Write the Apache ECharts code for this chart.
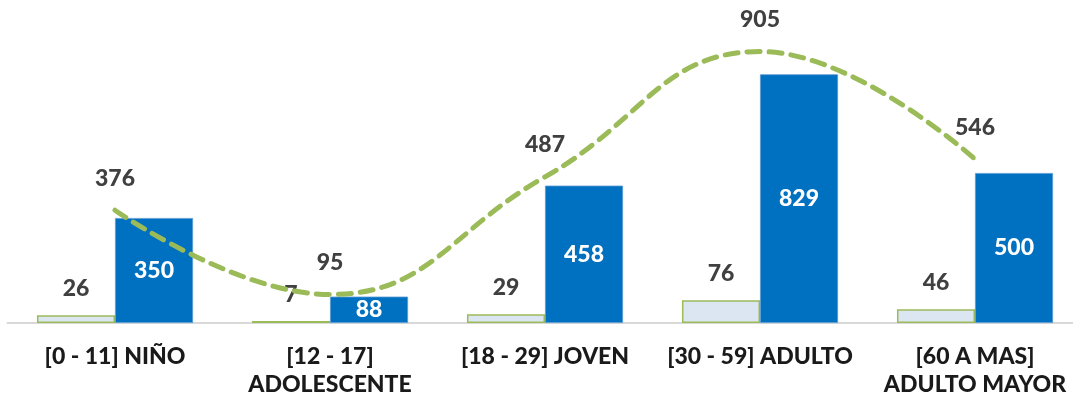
<!DOCTYPE html>
<html>
<head>
<meta charset="utf-8">
<script src="https://cdn.jsdelivr.net/npm/echarts@6/dist/echarts.min.js"></script>
<style>
  html, body { margin: 0; padding: 0; background: #fff; overflow: hidden; }
  #chart { width: 1083px; height: 404px; }
</style>
</head>
<body>
<div id="chart"></div>
<script>
// categorias de edad
const categories = ["[0 - 11] NIÑO", "[12 - 17]\nADOLESCENTE", "[18 - 29] JOVEN", "[30 - 59] ADULTO", "[60 A MAS]\nADULTO MAYOR"];
const serieA = [26, 7, 29, 76, 46];
const serieB = [350, 88, 458, 829, 500];
const totales = [376, 95, 487, 905, 546];

const font = "Lato, 'Open Sans', sans-serif";
const peso = 900;

let myChart = echarts.init(document.getElementById("chart"));
let option = {
  animation: false,
  grid: { left: 7.5, right: 0.5, top: 23, bottom: 81 },
  xAxis: {
    type: "category",
    data: categories,
    axisLine: { lineStyle: { color: "#d9d9d9", width: 2 } },
    axisTick: { show: false },
    axisLabel: {
      interval: 0,
      margin: 20,
      color: "#1a1a1a",
      fontFamily: font,
      fontWeight: peso,
      fontSize: 23,
      lineHeight: 28
    }
  },
  yAxis: { type: "value", min: 0, max: 1000, show: false },
  series: [
    {
      type: "bar",
      data: serieA,
      barWidth: "36.3%",
      barGap: "0%",
      itemStyle: { color: "#dce6f2", borderColor: "#9bbb59", borderWidth: 1.5 },
      label: {
        show: true,
        position: "top",
        distance: 15,
        color: "#404040",
        fontFamily: font,
        fontWeight: peso,
        fontSize: 23
      }
    },
    {
      type: "bar",
      data: serieB,
      barWidth: "36.3%",
      barGap: "0%",
      itemStyle: { color: "#0070c0", borderColor: "#5b9bd5", borderWidth: 0.8 },
      label: {
        show: true,
        position: "inside",
        color: "#ffffff",
        fontFamily: font,
        fontWeight: peso,
        fontSize: 23
      }
    },
    {
      type: "line",
      data: totales,
      smooth: 0.45,
      symbol: "circle",
      symbolSize: 1,
      z: 5,
      itemStyle: { color: "#9bbb59" },
      lineStyle: { color: "#9bbb59", width: 5, type: [13, 9], cap: "round" },
      label: {
        show: true,
        position: "top",
        distance: 20,
        color: "#404040",
        fontFamily: font,
        fontWeight: peso,
        fontSize: 23
      }
    }
  ]
};
myChart.setOption(option);
</script>
</body>
</html>
